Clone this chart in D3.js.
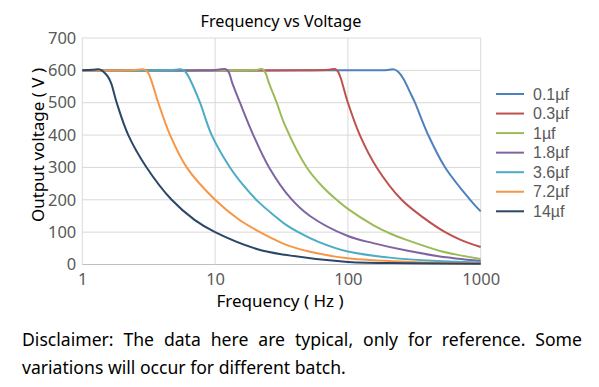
<!DOCTYPE html>
<html>
<head>
<meta charset="utf-8">
<script src="https://cdn.jsdelivr.net/npm/d3@7"></script>
<style>
  body { margin: 0; background: #fff; }
  svg { display: block; font-family: "Noto Sans", "Open Sans", sans-serif; }
</style>
</head>
<body>
<div id="chart"></div>
<script>
// capacitor values, one curve each
const seriesNames = ["0.1µf", "0.3µf", "1µf", "1.8µf", "3.6µf", "7.2µf", "14µf"]
const seriesColors = ["#4f81bd", "#c0504d", "#9bbb59", "#8064a2", "#4bacc6", "#f79646", "#2a4668"]

// frequency (Hz) / output voltage (V)
const freq01 = [1, 100, 200, 222, 240, 261, 298.7, 320, 403, 540, 833, 1000]
const volt01 = [600, 600, 601, 603, 595, 575, 526, 500, 400, 300, 200, 164]
const freq03 = [1, 50, 72, 80, 84, 88, 95.1, 100, 123, 164.8, 254, 370, 540, 700, 1000]
const volt03 = [600, 600, 602, 604, 597, 578, 530, 500, 400, 300, 200, 145, 100, 77, 54]
const freq1 = [1, 15, 21, 22.5, 23.7, 25.5, 29.1, 33.6, 49, 65.3, 82.4, 100, 155, 210, 277, 494, 1000]
const volt1 = [600, 600, 602, 604, 596, 560, 500, 430, 300, 238, 200, 172, 122, 95, 76, 42, 17]
const freq18 = [1, 8, 10.5, 11.9, 12.6, 13.5, 15.4, 19.4, 25.5, 37, 51.8, 100, 155, 277, 494, 1000]
const volt18 = [600, 600, 602, 604, 596, 560, 500, 400, 300, 205, 150, 88, 66, 43, 25, 11]
const freq36 = [1, 4, 5, 5.6, 6, 6.5, 7.7, 9.43, 12.95, 16.3, 21, 29.1, 33.6, 42.3, 60, 100, 200, 400, 1000]
const volt36 = [600, 600, 602, 603, 595, 570, 500, 400, 300, 245, 195, 145, 125, 100, 70, 40, 22, 12, 6]
const freq72 = [1, 2.2, 2.6, 2.9, 3.1, 3.3, 3.735, 4.58, 6.11, 10, 15, 21.8, 25.9, 33.6, 50, 100, 300, 1000]
const volt72 = [600, 600, 602, 603, 595, 570, 500, 400, 300, 200, 140, 100, 84, 62, 41, 19, 8, 4]
const freq14 = [1, 1.2, 1.35, 1.45, 1.55, 1.65, 1.816, 2.22, 3.05, 4.71, 7, 10, 20.6, 33.6, 100, 300, 1000]
const volt14 = [600, 602, 603, 595, 582, 560, 500, 400, 300, 200, 138, 100, 48, 30, 8, 4, 2]

const seriesFreqs = [freq01, freq03, freq1, freq18, freq36, freq72, freq14]
const seriesVolts = [volt01, volt03, volt1, volt18, volt36, volt72, volt14]

const xTicks = [1, 10, 100, 1000]
const yTicks = [0, 100, 200, 300, 400, 500, 600, 700]

const disclaimerLines = [
  "Disclaimer: The data here are typical, only for reference. Some",
  "variations will occur for different batch."
]

const width = 599, height = 387
const margin = {top: 38, left: 82.3, right: 118.3, bottom: 122.5}

const svg = d3.select("#chart").append("svg").attr("width", width).attr("height", height)

const x = d3.scaleLog().domain([1, 1000]).range([margin.left, width - margin.right])
const y = d3.scaleLinear().domain([0, 700]).range([height - margin.bottom, margin.top])

// grid
svg.append("g").selectAll("line").data(yTicks).join("line")
  .attr("x1", x(1)).attr("x2", x(1000))
  .attr("y1", d => y(d)).attr("y2", d => y(d))
  .attr("stroke", d => d === 0 ? "#bfbfbf" : "#d9d9d9").attr("stroke-width", 1)
svg.append("g").selectAll("line").data(xTicks).join("line")
  .attr("x1", d => x(d)).attr("x2", d => x(d))
  .attr("y1", y(0)).attr("y2", y(700))
  .attr("stroke", "#d9d9d9").attr("stroke-width", 1)

// axes, labels only
const yAxis = svg.append("g").attr("transform", `translate(${x(1) - 6},0)`)
  .call(d3.axisLeft(y).tickValues(yTicks).tickSize(0).tickPadding(0))
yAxis.select(".domain").remove()
yAxis.selectAll("text").attr("font-size", 16.5).attr("fill", "#595959").attr("font-family", "Noto Sans")

const xAxis = svg.append("g").attr("transform", `translate(0,${y(0)})`)
  .call(d3.axisBottom(x).tickValues(xTicks).tickFormat(d3.format("d")).tickSize(0).tickPadding(9))
xAxis.select(".domain").remove()
xAxis.selectAll("text").attr("font-size", 16.5).attr("fill", "#595959").attr("font-family", "Noto Sans")

// curves
const line = d3.line().x(d => x(d[0])).y(d => y(d[1])).curve(d3.curveCatmullRom.alpha(0.5))
seriesNames.forEach((name, i) => {
  const pts = seriesFreqs[i].map((f, j) => [f, seriesVolts[i][j]])
  svg.append("path").datum(pts)
    .attr("d", line).attr("fill", "none")
    .attr("stroke", seriesColors[i]).attr("stroke-width", 2)
    .attr("stroke-linejoin", "round")
})

// titles
svg.append("text").attr("x", 281).attr("y", 26.5).attr("text-anchor", "middle")
  .attr("font-size", 16.2).attr("fill", "#000").text("Frequency vs Voltage")
svg.append("text").attr("x", 280).attr("y", 307).attr("text-anchor", "middle")
  .attr("font-size", 17).attr("fill", "#000").text("Frequency\u00a0( Hz )")
svg.append("text").attr("transform", "translate(44,145) rotate(-90)").attr("text-anchor", "middle")
  .attr("font-size", 17).attr("fill", "#000").text("Output voltage\u00a0( V )")

// legend
const legend = svg.append("g").selectAll("g").data(seriesNames).join("g")
  .attr("transform", (d, i) => `translate(496,${94 + i * 19.55})`)
legend.append("line").attr("x1", 0).attr("x2", 28)
  .attr("stroke", (d, i) => seriesColors[i]).attr("stroke-width", 2)
legend.append("text").attr("x", 37).attr("y", 5.5)
  .attr("font-family", "Liberation Sans").attr("font-size", 16)
  .attr("fill", "#595959").text(d => d)

// disclaimer, first line justified to the chart width
const d1 = svg.append("text").attr("x", 22).attr("y", 346).attr("font-size", 17.6).attr("fill", "#000")
  .text(disclaimerLines[0])
const natural = d1.node().getComputedTextLength()
const gaps = disclaimerLines[0].split(" ").length - 1
d1.attr("word-spacing", (560 - natural) / gaps)
svg.append("text").attr("x", 22).attr("y", 374).attr("font-size", 17.6).attr("fill", "#000")
  .text(disclaimerLines[1])
</script>
</body>
</html>
